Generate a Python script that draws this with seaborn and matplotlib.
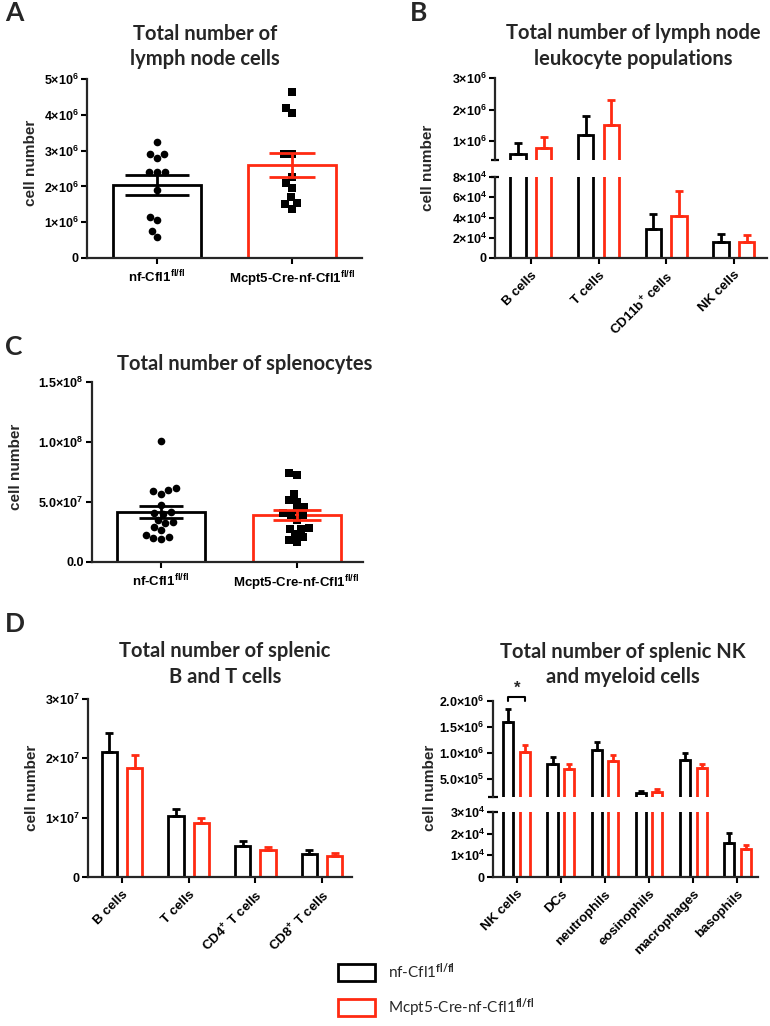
import numpy as np
import pandas as pd
import matplotlib
matplotlib.use('Agg')
import matplotlib.pyplot as plt
from matplotlib.patches import Patch
import seaborn as sns

sns.set_style('ticks')
plt.rcParams['font.family'] = ['Liberation Sans', 'DejaVu Sans']
plt.rcParams['font.weight'] = 'bold'
plt.rcParams['mathtext.fontset'] = 'custom'
plt.rcParams['mathtext.bf'] = 'Liberation Sans:bold'
plt.rcParams['mathtext.it'] = 'Liberation Sans:bold'
plt.rcParams['mathtext.rm'] = 'Lato'

BLACK = 'black'
RED = '#ff2a12'
W, H = 770, 1026

groups = ['nf-Cfl1', 'Mcpt5-Cre-nf-Cfl1']
group_ticks = [r'nf-Cfl1$^{\mathbf{fl/fl}}$', r'Mcpt5-Cre-nf-Cfl1$^{\mathbf{fl/fl}}$']
legend_labels = [r'nf-Cfl1$^{\mathrm{fl/fl}}$', r'Mcpt5-Cre-nf-Cfl1$^{\mathrm{fl/fl}}$']

# A: lymph node cells per mouse
ln_ctrl = [3.25e6, 2.9e6, 2.9e6, 2.8e6, 2.4e6, 2.4e6, 2.4e6, 1.9e6, 1.05e6, 1.15e6, 0.75e6, 0.58e6]
ln_ko = [4.65e6, 4.2e6, 4.05e6, 2.9e6, 2.9e6, 2.25e6, 2.1e6, 1.95e6, 1.7e6, 1.55e6, 1.5e6, 1.38e6]

# B: lymph node leukocyte populations (mean, sem)
ln_pops = ['B cells', 'T cells', r'CD11b$^{\mathbf{+}}$ cells', 'NK cells']
ln_pop_ctrl = [0.60e6, 1.19e6, 2.9e4, 1.6e4]
ln_pop_ctrl_sem = [0.34e6, 0.59e6, 1.4e4, 0.8e4]
ln_pop_ko = [0.78e6, 1.50e6, 4.15e4, 1.55e4]
ln_pop_ko_sem = [0.35e6, 0.80e6, 2.45e4, 0.7e4]

# C: splenocytes per mouse
sp_ctrl = [100.8e6, 61.9e6, 56.9e6, 60.3e6, 58.9e6, 47.2e6, 40.5e6, 41.9e6, 40.0e6,
           33.6e6, 35.0e6, 29.4e6, 32.2e6, 26.7e6, 19.4e6, 22.2e6, 20.3e6, 21.1e6]
sp_ko = [72.2e6, 74.2e6, 56.4e6, 51.7e6, 50.3e6, 45.6e6, 40.5e6, 39.2e6, 39.2e6,
         43.3e6, 35.0e6, 28.0e6, 27.2e6, 27.8e6, 23.0e6, 16.7e6, 18.3e6, 20.6e6]

# D left: splenic B and T cells (mean, sem)
bt_pops = ['B cells', 'T cells', r'CD4$^{\mathbf{+}}$ T cells', r'CD8$^{\mathbf{+}}$ T cells']
bt_ctrl = [2.11e7, 1.02e7, 0.52e7, 0.39e7]
bt_ctrl_sem = [0.31e7, 0.12e7, 0.08e7, 0.06e7]
bt_ko = [1.83e7, 0.91e7, 0.45e7, 0.36e7]
bt_ko_sem = [0.22e7, 0.08e7, 0.05e7, 0.05e7]

# D right: splenic NK and myeloid cells (mean, sem)
my_pops = ['NK cells', 'DCs', 'neutrophils', 'eosinophils', 'macrophages', 'basophils']
my_ctrl = [1.59e6, 0.80e6, 1.06e6, 0.23e6, 0.87e6, 1.55e4]
my_ctrl_sem = [0.25e6, 0.13e6, 0.15e6, 0.04e6, 0.13e6, 0.5e4]
my_ko = [1.02e6, 0.70e6, 0.85e6, 0.26e6, 0.72e6, 1.27e4]
my_ko_sem = [0.13e6, 0.09e6, 0.12e6, 0.05e6, 0.08e6, 0.2e4]

fig = plt.figure(figsize=(W / 100, H / 100), dpi=100)


def axes_px(l, t, r, b):
    return fig.add_axes([l / W, 1 - b / H, (r - l) / W, (b - t) / H])


def style(ax, bottom=True):
    sns.despine(ax=ax, bottom=not bottom)
    for s in ['left', 'bottom']:
        ax.spines[s].set_linewidth(1.6)
    ax.tick_params(axis='both', direction='out', length=4, width=1.5, pad=2, colors='k')
    ax.tick_params(axis='y', labelsize=9)
    ax.tick_params(axis='x', labelsize=9.5, pad=4)
    ax.set_xlabel('')
    ax.set_ylabel('')
    if not bottom:
        ax.tick_params(axis='x', bottom=False, labelbottom=False)


def scatter_bar(ax, ctrl, ko, caps):
    df = pd.DataFrame({'group': [groups[0]] * len(ctrl) + [groups[1]] * len(ko),
                       'value': ctrl + ko})
    sns.barplot(df, x='group', y='value', hue='group', order=groups, hue_order=groups,
                palette=[BLACK, RED], fill=False, errorbar=None, width=0.65,
                linewidth=2, legend=False, ax=ax)
    for g, m in zip(groups, ['o', 's']):
        sns.swarmplot(df[df.group == g], x='group', y='value', order=groups, color='k',
                      marker=m, size=5.5, linewidth=0, ax=ax, zorder=3)
    stats = df.groupby('group')['value'].agg(['mean', 'sem']).reindex(groups)
    for i, (g, c, cap) in enumerate(zip(groups, [BLACK, RED], caps)):
        ax.errorbar(i, stats.loc[g, 'mean'], yerr=stats.loc[g, 'sem'], color=c,
                    capsize=cap, elinewidth=2, capthick=2, zorder=5)
    ax.set_xticks(range(2), group_ticks)


def grouped_bar(ax, cats, ctrl, ko, ctrl_sem, ko_sem, cap):
    n = len(cats)
    df = pd.DataFrame({'cat': cats * 2, 'group': [groups[0]] * n + [groups[1]] * n,
                       'mean': ctrl + ko})
    sns.barplot(df, x='cat', y='mean', hue='group', hue_order=groups,
                palette=[BLACK, RED], fill=False, errorbar=None, width=0.76, gap=0.4,
                linewidth=2, legend=False, ax=ax)
    conts = list(ax.containers)[:2]
    for cont, means, sems, c in zip(conts, [ctrl, ko], [ctrl_sem, ko_sem], [BLACK, RED]):
        xs = [p.get_x() + p.get_width() / 2 for p in cont]
        ax.errorbar(xs, means, yerr=[np.zeros(len(sems)), sems], fmt='none', ecolor=c,
                    elinewidth=2, capsize=cap, capthick=2)
    return conts


def break_mark(ax, y, half):
    ax.plot([-half, half], [y, y], transform=ax.transAxes, color='k', lw=1.6,
            clip_on=False, solid_capstyle='butt')


def rot_labels(ax, labels):
    ax.set_xticks(range(len(labels)), labels, rotation=45, ha='right',
                  rotation_mode='anchor')


def title(x, baselines, lines):
    for y, s in zip(baselines, lines):
        fig.text(x / W, 1 - y / H, s, family=['Lato', 'DejaVu Sans'], fontweight='bold',
                 fontsize=14.5, ha='center', va='baseline')


ylab_kw = dict(rotation=90, fontsize=11, fontweight='bold', ha='center', va='center')
letter_kw = dict(family=['Lato', 'DejaVu Sans'], fontweight='bold', fontsize=19,
                 ha='left', va='top')

# ---- A ----
axA = axes_px(87, 79, 362, 258)
scatter_bar(axA, ln_ctrl, ln_ko, caps=[23, 16.5])
axA.set_ylim(0, 5e6)
axA.set_xlim(-0.52, 1.52)
axA.set_yticks([0, 1e6, 2e6, 3e6, 4e6, 5e6],
               ['0'] + [r'$\mathbf{%d{\times}10^{6}}$' % k for k in range(1, 6)])
style(axA)
title(205, [40, 65], ['Total number of', 'lymph node cells'])
fig.text(31 / W, 1 - 163 / H, 'cell number', **ylab_kw)
fig.text(5 / W, 1 - 1 / H, 'A', **letter_kw)

# ---- B (broken axis) ----
axBt = axes_px(495, 78, 767, 160)
axBb = axes_px(495, 177, 767, 258)
for ax in (axBt, axBb):
    grouped_bar(ax, ln_pops, ln_pop_ctrl, ln_pop_ko, ln_pop_ctrl_sem, ln_pop_ko_sem, 2.6)
    ax.set_xlim(-0.53, 3.49)
axBt.set_ylim(0.4e6, 3e6)
axBt.set_yticks([1e6, 2e6, 3e6], [r'$\mathbf{%d{\times}10^{6}}$' % k for k in (1, 2, 3)])
axBb.set_ylim(0, 8e4)
axBb.set_yticks([0, 2e4, 4e4, 6e4, 8e4],
                ['0'] + [r'$\mathbf{%d{\times}10^{4}}$' % k for k in (2, 4, 6, 8)])
style(axBt, bottom=False)
style(axBb)
rot_labels(axBb, ln_pops)
break_mark(axBt, 0, 0.016)
break_mark(axBb, 1, 0.016)
title(633, [39, 65], ['Total number of lymph node', 'leukocyte populations'])
fig.text(428 / W, 1 - 168 / H, 'cell number', **ylab_kw)
fig.text(410 / W, 1 - 1 / H, 'B', **letter_kw)

# ---- C ----
axC = axes_px(92, 382, 363, 562)
scatter_bar(axC, sp_ctrl, sp_ko, caps=[15.5, 17])
axC.set_ylim(0, 1.5e8)
axC.set_xlim(-0.51, 1.49)
axC.set_yticks([0, 5e7, 1e8, 1.5e8],
               ['0.0', r'$\mathbf{5.0{\times}10^{7}}$', r'$\mathbf{1.0{\times}10^{8}}$',
                r'$\mathbf{1.5{\times}10^{8}}$'])
style(axC)
title(245, [370], ['Total number of splenocytes'])
fig.text(16 / W, 1 - 467 / H, 'cell number', **ylab_kw)
fig.text(5 / W, 1 - 335 / H, 'C', **letter_kw)

# ---- D left ----
axDl = axes_px(88, 699, 352, 877)
grouped_bar(axDl, bt_pops, bt_ctrl, bt_ko, bt_ctrl_sem, bt_ko_sem, 2.6)
axDl.set_xlim(-0.51, 3.45)
axDl.set_ylim(0, 3e7)
axDl.set_yticks([0, 1e7, 2e7, 3e7],
                ['0'] + [r'$\mathbf{%d{\times}10^{7}}$' % k for k in (1, 2, 3)])
style(axDl)
rot_labels(axDl, bt_pops)
title(225, [657, 683], ['Total number of splenic', 'B and T cells'])
fig.text(32 / W, 1 - 788 / H, 'cell number', **ylab_kw)
fig.text(5 / W, 1 - 612 / H, 'D', **letter_kw)

# ---- D right (broken axis) ----
axDt = axes_px(493, 701, 758, 797)
axDb = axes_px(493, 812, 758, 877)
for ax in (axDt, axDb):
    conts = grouped_bar(ax, my_pops, my_ctrl, my_ko, my_ctrl_sem, my_ko_sem, 2.4)
    ax.set_xlim(-0.54, 5.47)
    if ax is axDt:
        top_conts = conts
axDt.set_ylim(1.6e5, 2.0e6)
axDt.set_yticks([5e5, 1e6, 1.5e6, 2e6],
                [r'$\mathbf{5.0{\times}10^{5}}$', r'$\mathbf{1.0{\times}10^{6}}$',
                 r'$\mathbf{1.5{\times}10^{6}}$', r'$\mathbf{2.0{\times}10^{6}}$'])
axDb.set_ylim(0, 3e4)
axDb.set_yticks([0, 1e4, 2e4, 3e4],
                ['0'] + [r'$\mathbf{%d{\times}10^{4}}$' % k for k in (1, 2, 3)])
style(axDt, bottom=False)
style(axDb)
rot_labels(axDb, my_pops)
break_mark(axDt, 0, 0.019)
break_mark(axDb, 1, 0.019)
# significance bracket over NK cells
x0 = top_conts[0][0].get_x() + top_conts[0][0].get_width() / 2
x1 = top_conts[1][0].get_x() + top_conts[1][0].get_width() / 2
axDt.plot([x0, x0, x1, x1], [2.0e6, 2.076e6, 2.076e6, 2.0e6], color='k', lw=1.5,
          clip_on=False)
axDt.text((x0 + x1) / 2, 2.10e6, '*', ha='center', va='bottom', fontsize=12,
          fontweight='bold')
title(623, [658, 683], ['Total number of splenic NK', 'and myeloid cells'])
fig.text(430 / W, 1 - 788 / H, 'cell number', **ylab_kw)

# ---- legend ----
handles = [Patch(facecolor='white', edgecolor=c, linewidth=2) for c in (BLACK, RED)]
fig.legend(handles, legend_labels, loc='upper left', bbox_to_anchor=(338 / W, 1 - 961 / H),
           frameon=False, borderpad=0, borderaxespad=0, handlelength=2.4,
           handleheight=1.3, handletextpad=0.9, labelspacing=1.0,
           prop={'family': ['Lato', 'DejaVu Sans'], 'size': 11, 'weight': 'normal'})

fig.savefig('out.png', dpi=100)
